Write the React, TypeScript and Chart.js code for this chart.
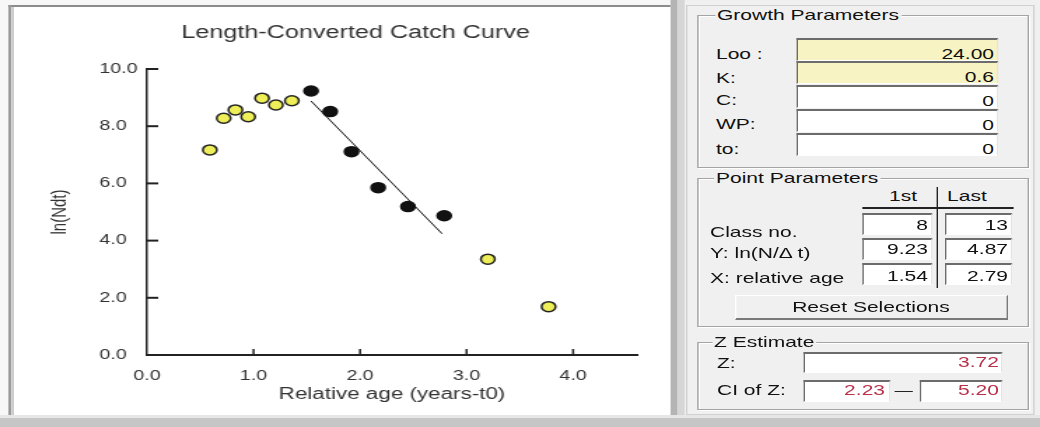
import React, { useEffect, useRef } from 'react';
import { Chart, registerables } from 'chart.js';

Chart.register(...registerables);

// ---------- data ----------
const chartTitle = 'Length-Converted Catch Curve';
const xAxisTitle = 'Relative age (years-t0)';
const yAxisTitle = 'ln(Ndt)';
const xTickValues = [0, 1, 2, 3, 4];
const xTickLabels = ['0.0', '1.0', '2.0', '3.0', '4.0'];
const yTickValues = [0, 2, 4, 6, 8, 10];
const yTickLabels = ['0.0', '2.0', '4.0', '6.0', '8.0', '10.0'];
const xMin = 0;
const xMax = 4.6;
const yMin = 0;
const yMax = 10;

const otherAge = [0.59, 0.72, 0.83, 0.95, 1.08, 1.21, 1.36, 3.2, 3.77];
const otherLnN = [7.17, 8.28, 8.57, 8.33, 8.98, 8.74, 8.89, 3.35, 1.69];
const selectedAge = [1.54, 1.72, 1.92, 2.17, 2.45, 2.79];
const selectedLnN = [9.23, 8.51, 7.11, 5.85, 5.19, 4.87];
const fitAge = [1.54, 2.77];
const fitLnN = [8.88, 4.24];

const growthLabels = ['Loo :', 'K:', 'C:', 'WP:', 'to:'];
const growthValues = ['24.00', '0.6', '0', '0', '0'];
const pointLabels = ['Class no.', 'Y: ln(N/\u0394 t)', 'X: relative age'];
const pointFirst = ['8', '9.23', '1.54'];
const pointLast = ['13', '4.87', '2.79'];
const zValue = '3.72';
const ciLow = '2.23';
const ciHigh = '5.20';

// ---------- layout helpers (reference is stretched horizontally) ----------
const S = 1.4;
const X = (v: number) => v / S;
const FONT = '"Liberation Sans", Arial, sans-serif';
const PANEL_BG = '#f0f0f0';

const decorPlugin = {
  id: 'decor',
  afterDraw(chart: any) {
    const { ctx } = chart;
    const xs = chart.scales.x;
    const ys = chart.scales.y;
    ctx.save();
    ctx.strokeStyle = '#222';
    ctx.lineWidth = 1.5;
    xTickValues.forEach((v) => {
      if (v === 0) return;
      const px = xs.getPixelForValue(v);
      ctx.beginPath();
      ctx.moveTo(px, ys.bottom);
      ctx.lineTo(px, ys.bottom - 6);
      ctx.stroke();
    });
    ctx.lineWidth = 2;
    yTickValues.forEach((v) => {
      if (v === 0) return;
      const py = ys.getPixelForValue(v);
      ctx.beginPath();
      ctx.moveTo(xs.left, py);
      ctx.lineTo(xs.left + 8, py);
      ctx.stroke();
    });
    ctx.font = '18px ' + FONT;
    ctx.fillStyle = '#333';
    ctx.textAlign = 'center';
    ctx.textBaseline = 'middle';
    ctx.fillText(chartTitle, 244, 26);
    ctx.restore();
  },
};

function CatchChart() {
  const ref = useRef<HTMLCanvasElement | null>(null);
  useEffect(() => {
    if (!ref.current) return;
    const chart = new Chart(ref.current, {
      type: 'scatter',
      data: {
        datasets: [
          {
            label: 'fit',
            data: fitAge.map((x, i) => ({ x, y: fitLnN[i] })),
            showLine: true,
            borderColor: '#111',
            borderWidth: 1,
            pointRadius: 0,
            order: 3,
          },
          {
            label: 'other',
            data: otherAge.map((x, i) => ({ x, y: otherLnN[i] })),
            backgroundColor: '#eeee58',
            borderColor: '#222',
            borderWidth: 1.5,
            pointRadius: 5,
            order: 1,
          },
          {
            label: 'selected',
            data: selectedAge.map((x, i) => ({ x, y: selectedLnN[i] })),
            backgroundColor: '#111',
            borderColor: '#111',
            borderWidth: 1.5,
            pointRadius: 5,
            order: 2,
          },
        ],
      } as any,
      options: {
        responsive: false,
        maintainAspectRatio: false,
        animation: false,
        layout: { padding: { left: 61, right: 24, top: 62, bottom: 0 } },
        plugins: {
          legend: { display: false },
          tooltip: { enabled: false },
          title: { display: false },
        },
        scales: {
          x: {
            type: 'linear',
            min: xMin,
            max: xMax,
            grid: { display: false },
            border: { display: true, color: '#222', width: 2 },
            ticks: {
              includeBounds: false,
              autoSkip: false,
              maxRotation: 0,
              padding: 5,
              color: '#333',
              font: { family: FONT, size: 14 },
              callback: (_v: any, i: number) => xTickLabels[i],
            },
            afterBuildTicks: (s: any) => {
              s.ticks = xTickValues.map((v) => ({ value: v }));
            },
            afterFit: (s: any) => {
              s.height = 60;
            },
            title: {
              display: true,
              text: xAxisTitle,
              color: '#333',
              font: { family: FONT, size: 16 },
              padding: { top: 11, bottom: 11 },
            },
          },
          y: {
            type: 'linear',
            min: yMin,
            max: yMax,
            grid: { display: false },
            border: { display: true, color: '#222', width: 1.5 },
            ticks: {
              includeBounds: false,
              autoSkip: false,
              crossAlign: 'far',
              padding: 6,
              color: '#333',
              font: { family: FONT, size: 14 },
              callback: (_v: any, i: number) => yTickLabels[i],
            },
            afterBuildTicks: (s: any) => {
              s.ticks = yTickValues.map((v) => ({ value: v }));
            },
            afterFit: (s: any) => {
              s.width = 34;
            },
            title: {
              display: true,
              text: yAxisTitle,
              color: '#333',
              font: { family: FONT, size: 15 },
              padding: { top: -37, bottom: 0 },
            },
          },
        },
      } as any,
      plugins: [decorPlugin],
    });
    return () => chart.destroy();
  }, []);
  return (
    <canvas
      ref={ref}
      width={469}
      height={408}
      style={{ position: 'absolute', left: X(14), top: 7, display: 'block' }}
    />
  );
}

function Rect(p: { l: number; t: number; r: number; b: number; bg: string; style?: any }) {
  return (
    <div
      style={{
        position: 'absolute',
        left: X(p.l),
        top: p.t,
        width: X(p.r - p.l),
        height: p.b - p.t,
        background: p.bg,
        ...(p.style || {}),
      }}
    />
  );
}

function T(p: { x: number; cy: number; align?: string; color?: string; size?: number; children: any; bg?: string }) {
  const align = p.align || 'left';
  const st: any = {
    position: 'absolute',
    top: p.cy - 8,
    lineHeight: '16px',
    height: 16,
    fontSize: p.size || 15,
    whiteSpace: 'nowrap',
    color: p.color || '#111',
  };
  if (align === 'right') {
    st.left = X(p.x) - 200;
    st.width = 200;
    st.textAlign = 'right';
  } else if (align === 'center') {
    st.left = X(p.x) - 150;
    st.width = 300;
    st.textAlign = 'center';
  } else {
    st.left = X(p.x);
  }
  return <div style={st}>{p.children}</div>;
}

function Group(p: { l: number; t: number; r: number; b: number; title: string; tx: number }) {
  return (
    <>
      <div
        style={{
          position: 'absolute',
          left: X(p.l),
          top: p.t,
          width: X(p.r - p.l),
          height: p.b - p.t,
          boxSizing: 'border-box',
          border: '1px solid #a4a4a4',
          boxShadow: 'inset 1px 1px 0 #ffffff, 1px 1px 0 #ffffff',
        }}
      />
      <div
        style={{
          position: 'absolute',
          left: X(p.tx - 2),
          top: p.t - 8,
          lineHeight: '16px',
          fontSize: 15,
          background: PANEL_BG,
          padding: '0 ' + X(2) + 'px',
          whiteSpace: 'nowrap',
          color: '#111',
        }}
      >
        {p.title}
      </div>
    </>
  );
}

function Field(p: { l: number; t: number; r: number; b: number; bg?: string }) {
  return (
    <div
      style={{
        position: 'absolute',
        left: X(p.l),
        top: p.t,
        width: X(p.r - p.l),
        height: p.b - p.t,
        boxSizing: 'border-box',
        background: p.bg || '#ffffff',
        borderTop: '2px solid #6c6c6c',
        borderLeft: '1.5px solid #6c6c6c',
        borderBottom: '1px solid #ffffff',
        borderRight: '1px solid #e4e4e4',
      }}
    />
  );
}

export default function App() {
  const growthTops = [38, 61, 85, 109, 133];
  const growthLabelCy = [54, 78, 100, 124, 149];
  const pointTops = [213, 238, 263];
  const pointValueCy = [225, 249, 276];
  const pointLabelCy = [232, 253, 278];
  const zColor = '#b8304a';
  return (
    <div
      style={{
        position: 'absolute',
        left: 0,
        top: 0,
        width: X(1040),
        height: 427,
        overflow: 'hidden',
        background: PANEL_BG,
        transform: `scaleX(${S})`,
        transformOrigin: '0 0',
        fontFamily: FONT,
      }}
    >
      {/* left chart panel frame */}
      <Rect l={0} t={0} r={670} b={418} bg="#f7f7f7" />
      <Rect l={8} t={5} r={670} b={7} bg="#8c8c8c" />
      <Rect l={8} t={5} r={11} b={416} bg="#9a9a9a" />
      <Rect l={11} t={7} r={14} b={416} bg="#cdcdcd" />
      <Rect l={14} t={7} r={670} b={415} bg="#ffffff" />
      {/* separator */}
      <Rect l={670} t={0} r={677} b={418} bg="#b4b4b4" />
      <Rect l={677} t={0} r={685} b={418} bg="#d6d6d6" />
      {/* right panel frame */}
      <Rect l={686} t={5} r={1034} b={415} bg="transparent" style={{ boxSizing: 'border-box', border: '1px solid #d0d0d0' }} />
      {/* bottom strip */}
      <Rect l={0} t={415} r={1040} b={418} bg="#e6e6e6" />
      <Rect l={0} t={418} r={1040} b={427} bg="#c6c6c6" />

      <CatchChart />

      {/* Growth Parameters */}
      <Group l={697} t={15} r={1029} b={168} title="Growth Parameters" tx={717} />
      {growthLabels.map((lab, i) => (
        <T key={'gl' + i} x={716} cy={growthLabelCy[i]}>
          {lab}
        </T>
      ))}
      {growthValues.map((v, i) => (
        <React.Fragment key={'gv' + i}>
          <Field l={797} t={growthTops[i]} r={998} b={growthTops[i] + 23} bg={i < 2 ? '#f8f3c2' : '#ffffff'} />
          <T x={994} cy={growthTops[i] + 15.5} align="right">
            {v}
          </T>
        </React.Fragment>
      ))}

      {/* Point Parameters */}
      <Group l={697} t={178} r={1029} b={327} title="Point Parameters" tx={716} />
      <T x={903} cy={196} align="center">1st</T>
      <T x={967} cy={196} align="center">Last</T>
      <Rect l={936} t={187} r={938.5} b={288} bg="#222" />
      <Rect l={862} t={207} r={1013} b={208.5} bg="#222" />
      {pointLabels.map((lab, i) => (
        <T key={'pl' + i} x={710} cy={pointLabelCy[i]}>
          {lab}
        </T>
      ))}
      {pointFirst.map((v, i) => (
        <React.Fragment key={'pf' + i}>
          <Field l={863} t={pointTops[i]} r={932} b={pointTops[i] + 22} />
          <T x={928} cy={pointValueCy[i]} align="right">
            {v}
          </T>
        </React.Fragment>
      ))}
      {pointLast.map((v, i) => (
        <React.Fragment key={'pv' + i}>
          <Field l={945} t={pointTops[i]} r={1012} b={pointTops[i] + 22} />
          <T x={1008} cy={pointValueCy[i]} align="right">
            {v}
          </T>
        </React.Fragment>
      ))}
      {/* Reset button */}
      <div
        style={{
          position: 'absolute',
          left: X(735),
          top: 295,
          width: X(1008 - 735),
          height: 25,
          boxSizing: 'border-box',
          background: PANEL_BG,
          borderTop: '1px solid #ffffff',
          borderLeft: '1px solid #ffffff',
          borderBottom: '2px solid #7a7a7a',
          borderRight: '1.5px solid #7a7a7a',
        }}
      />
      <T x={871} cy={307} align="center">Reset Selections</T>

      {/* Z Estimate */}
      <Group l={697} t={342} r={1029} b={410} title="Z Estimate" tx={714} />
      <T x={717} cy={363}>Z:</T>
      <Field l={803} t={352} r={1003} b={373} />
      <T x={999} cy={362} align="right" color={zColor}>
        {zValue}
      </T>
      <T x={717} cy={390}>CI of Z:</T>
      <Field l={803} t={380} r={890} b={402} />
      <T x={885} cy={390} align="right" color={zColor}>
        {ciLow}
      </T>
      <Rect l={895} t={390.5} r={913} b={392} bg="#222" />
      <Field l={920} t={380} r={1003} b={402} />
      <T x={999} cy={390} align="right" color={zColor}>
        {ciHigh}
      </T>
    </div>
  );
}
